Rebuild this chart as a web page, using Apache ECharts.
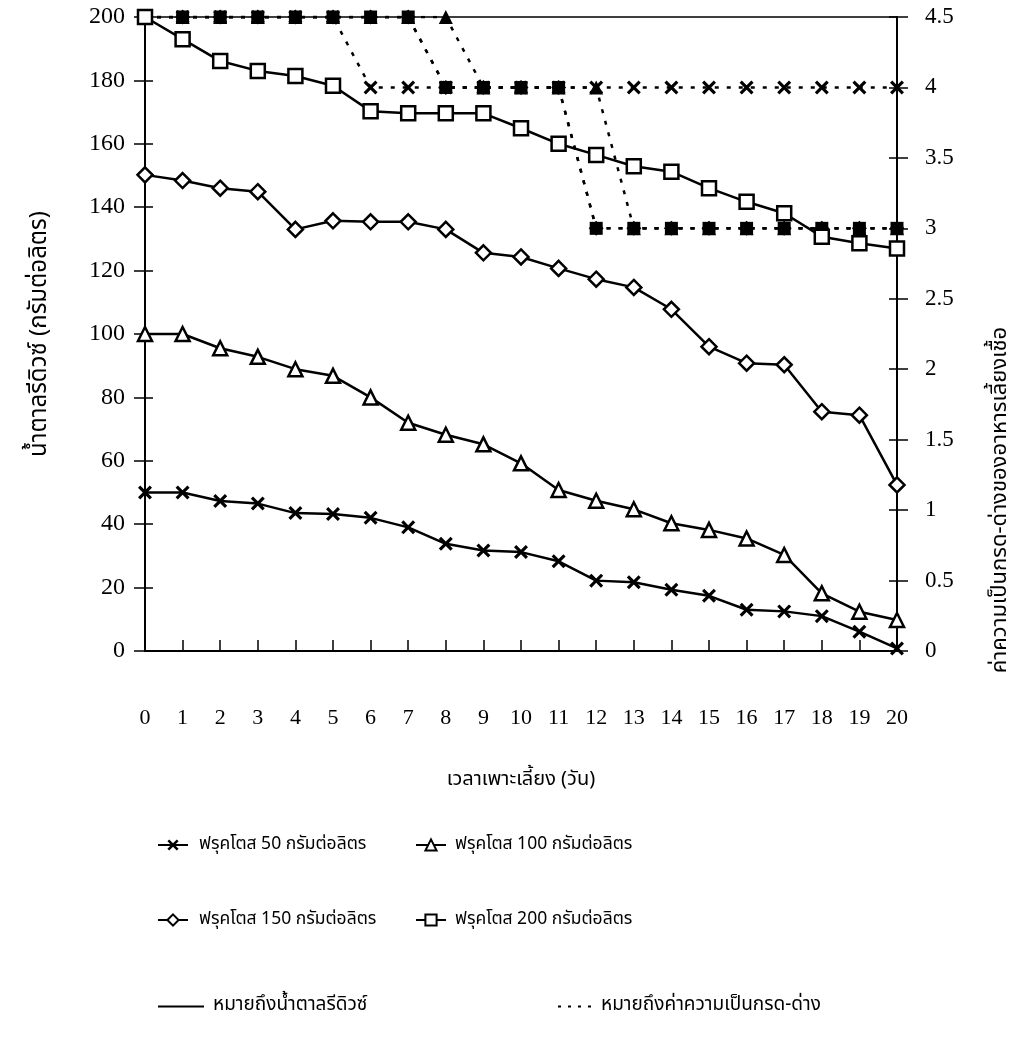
<!DOCTYPE html>
<html><head><meta charset="utf-8">
<script src="https://cdn.jsdelivr.net/npm/echarts@6/dist/echarts.min.js"></script>
<style>html,body{margin:0;padding:0;background:#fff}#c{width:1026px;height:1044px}</style>
</head><body><div id="c"></div>
<script>
// ---- data ----
const days = ['0','1','2','3','4','5','6','7','8','9','10','11','12','13','14','15','16','17','18','19','20'];
const sugar50  = [50, 50, 47.3, 46.5, 43.5, 43.2, 42, 39, 33.8, 31.7, 31.2, 28.3, 22.2, 21.7, 19.3, 17.4, 13, 12.5, 11, 6.1, 0.8];
const sugar100 = [100, 100, 95.5, 92.8, 88.9, 86.8, 80, 72, 68.2, 65.2, 59.2, 50.8, 47.4, 44.7, 40.3, 38.2, 35.5, 30.3, 18.2, 12.4, 9.8];
const sugar150 = [150.2, 148.4, 146, 144.9, 133, 135.7, 135.4, 135.4, 133, 125.6, 124.3, 120.7, 117.3, 114.7, 107.8, 96, 90.8, 90.3, 75.5, 74.4, 52.4];
const sugar200 = [200, 193, 186.1, 183, 181.4, 178.3, 170.3, 169.6, 169.6, 169.6, 164.9, 160, 156.5, 152.9, 151.2, 146, 141.7, 138.1, 130.7, 128.6, 127];
const ph50  = [4.5,4.5,4.5,4.5,4.5,4.5,4,4,4,4,4,4,4,4,4,4,4,4,4,4,4];
const ph100 = [4.5,4.5,4.5,4.5,4.5,4.5,4.5,4.5,4.5,4,4,4,4,3,3,3,3,3,3,3,3];
const ph150 = [4.5,4.5,4.5,4.5,4.5,4.5,4.5,4.5,4,4,4,4,3,3,3,3,3,3,3,3,3];
const ph200 = [4.5,4.5,4.5,4.5,4.5,4.5,4.5,4.5,4,4,4,4,3,3,3,3,3,3,3,3,3];
const names = ['ฟรุคโตส 50 กรัมต่อลิตร','ฟรุคโตส 100 กรัมต่อลิตร','ฟรุคโตส 150 กรัมต่อลิตร','ฟรุคโตส 200 กรัมต่อลิตร'];
const keyNames = ['หมายถึงน้ำตาลรีดิวซ์','หมายถึงค่าความเป็นกรด-ด่าง'];
const xTitle = 'เวลาเพาะเลี้ยง (วัน)';
const yLeftTitle = 'น้ำตาลรีดิวซ์ (กรัมต่อลิตร)';
const yRightTitle = 'ค่าความเป็นกรด-ด่างของอาหารเลี้ยงเชื้อ';

// ---- styling ----
const NUM_FONT = '"Liberation Serif", "DejaVu Serif", serif';
const TH_FONT = '"Noto Sans Thai", "Noto Serif Thai", "Loma", "Garuda", "Noto Sans", sans-serif';
const XSYM = 'path://M0,1.6L1.6,0L5,3.4L8.4,0L10,1.6L6.6,5L10,8.4L8.4,10L5,6.6L1.6,10L0,8.4L3.4,5Z';
const black = '#000';

function yAx(pos, max, interval, inside, extra) {
  return Object.assign({
    type: 'value', position: pos, min: 0, max: max, interval: interval,
    axisLine: {show: !inside, lineStyle: {color: black, width: 2}},
    axisTick: {show: true, inside: inside, length: inside ? 8 : 11, lineStyle: {color: black, width: 1.5}},
    axisLabel: {show: false},
    splitLine: {show: false}
  }, extra || {});
}

const sugarSeries = [sugar50, sugar100, sugar150, sugar200].map((d, i) => ({
  name: names[i], type: 'line', yAxisIndex: 0, data: d, z: 5,
  symbol: [XSYM, 'triangle', 'diamond', 'rect'][i],
  symbolSize: [14, 14, 15, 14][i],
  showAllSymbol: true,
  lineStyle: {color: black, width: 2.5},
  itemStyle: i === 0 ? {color: black} : {color: '#fff', borderColor: black, borderWidth: 2.5},
  emphasis: {disabled: true}, animation: false
}));
const phSeries = [ph50, ph100, ph150, ph200].map((d, i) => ({
  name: 'pH ' + names[i], type: 'line', yAxisIndex: 1, data: d, z: 3 + i * 0.1,
  symbol: [XSYM, 'triangle', 'diamond', 'rect'][i],
  symbolSize: [14, 14, 15, 13][i],
  showAllSymbol: true,
  lineStyle: {color: black, width: 2.5, type: [4, 8]},
  itemStyle: {color: black},
  emphasis: {disabled: true}, animation: false
}));
const keySeries = [
  {name: keyNames[0], type: 'line', yAxisIndex: 0, data: [], symbol: 'none', lineStyle: {color: black, width: 2}},
  {name: keyNames[1], type: 'line', yAxisIndex: 0, data: [], symbol: 'none', lineStyle: {color: black, width: 2.5, type: [3, 7]}}
];

function leg(name, left, top, w, fs, pad, hideSym) {
  const l = {data: [name], left: left, top: top, itemWidth: w, itemHeight: 14, selectedMode: false,
    textStyle: {fontFamily: TH_FONT, fontSize: fs, color: black, padding: [0, 0, 0, pad]}};
  if (hideSym) l.itemStyle = {opacity: 0};
  return l;
}

const chart = echarts.init(document.getElementById('c'), null, {renderer: 'canvas'});
chart.setOption({
  animation: false,
  backgroundColor: '#fff',
  grid: {left: 145, right: 129, top: 17, bottom: 393, show: true, borderColor: black, borderWidth: 1.5},
  xAxis: [{
    type: 'category', data: days, boundaryGap: false,
    axisLine: {lineStyle: {color: black, width: 2}},
    axisTick: {inside: true, length: 11, alignWithLabel: true, lineStyle: {color: black, width: 1.5}},
    axisLabel: {margin: 56, fontFamily: NUM_FONT, fontSize: 22, color: black},
    name: xTitle, nameLocation: 'middle', nameGap: 120,
    nameTextStyle: {fontFamily: TH_FONT, fontSize: 20, color: black}
  }],
  yAxis: [
    yAx('left', 200, 20, false, {
      axisLabel: {show: true, margin: 20, fontFamily: NUM_FONT, fontSize: 24, color: black},
      name: yLeftTitle, nameLocation: 'middle', nameGap: 92, nameRotate: 90,
      nameTextStyle: {fontFamily: TH_FONT, fontSize: 24, color: black}
    }),
    yAx('right', 4.5, 0.5, false, {
      axisLabel: {show: true, margin: 28, fontFamily: NUM_FONT, fontSize: 23, color: black}
    }),
    yAx('left', 200, 20, true),
    yAx('right', 4.5, 0.5, true)
  ],
  graphic: [{
    type: 'text', x: 1002, y: 500, rotation: Math.PI / 2,
    style: {text: yRightTitle, fontFamily: TH_FONT, fontSize: 22, fill: black, align: 'center', verticalAlign: 'middle'}
  }],
  legend: [
    leg(names[0], 152, 831, 30, 17.5, 6),
    leg(names[1], 410, 831, 30, 17.5, 4),
    leg(names[2], 152, 906, 30, 17.5, 6),
    leg(names[3], 410, 906, 30, 17.5, 4),
    leg(keyNames[0], 152, 992, 46, 19, 4, true),
    leg(keyNames[1], 552, 992, 34, 19, 4, true)
  ],
  series: phSeries.concat(sugarSeries, keySeries)
});
</script>
</body></html>
